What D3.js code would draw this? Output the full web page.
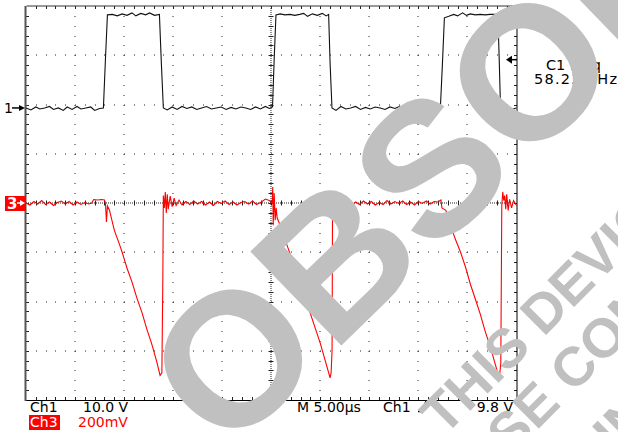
<!DOCTYPE html>
<html>
<head>
<meta charset="utf-8">
<script src="https://cdn.jsdelivr.net/npm/d3@7"></script>
<style>
body { margin: 0; background: #fff; }
text { font-family: "DejaVu Sans", sans-serif; }
</style>
</head>
<body>
<div id="scope"></div>
<script>
// Ch1 trace, time in us, volts
var ch1Time = [0, 0.5, 1.0, 1.4, 1.9, 2.4, 2.8, 3.3, 3.8, 4.2, 4.7, 5.2, 5.6, 6.1, 6.6, 7.0, 7.5, 7.89,
	8.1, 8.3, 8.8, 9.3, 9.8, 10.3, 10.8, 11.2, 11.7, 12.2, 12.6, 13.1, 13.6,
	13.8, 14.0, 14.4, 14.9, 15.4, 15.9, 16.4, 16.9, 17.4, 17.9, 18.4, 18.9, 19.4, 19.9, 20.4, 20.9,
	21.4, 21.9, 22.4, 22.9, 23.4, 23.9, 24.4, 24.8, 25.13,
	25.3, 25.48, 25.9, 26.4, 26.9, 27.4, 27.9, 28.3, 28.7, 29.2, 29.7, 30.2, 30.6, 30.85,
	31.0, 31.19, 31.6, 32.1, 32.6, 33.1, 33.6, 34.1, 34.6, 35.1, 35.6, 36.1, 36.6, 37.1, 37.6, 38.1,
	38.6, 39.1, 39.6, 40.1, 40.6, 41.1, 41.6, 42.0, 42.24,
	42.45, 42.65, 43.1, 43.6, 44.0, 44.5, 44.9, 45.3, 45.8, 46.3, 46.8, 47.3, 47.8, 48.1,
	48.25, 48.37, 48.8, 49.3, 50];
var ch1Volts = [0, -0.4, 0.2, -0.2, 0, 0.3, -0.3, 0, -0.5, 0.2, -0.3, 0.3, -0.2, 0, 0.2, -0.5, -0.1, 0,
	10, 18.9, 19.0, 18.7, 19.1, 18.8, 19.3, 18.7, 19.2, 18.9, 19.3, 18.8, 19.0,
	9, 0, -0.4, 0.2, -0.3, 0.3, -0.1, 0.2, -0.3, 0, 0.3, -0.2, 0, 0.2, -0.3, 0.1,
	-0.2, 0.2, 0, -0.3, 0.2, -0.2, 0.3, -0.1, 0.2,
	10, 18.9, 19.1, 18.9, 19.0, 18.8, 19.0, 19.2, 18.6, 19.1, 18.8, 19.2, 18.7, 19.0,
	9, 0, -0.5, 0.3, -0.2, 0, 0.3, -0.3, 0.1, -0.2, 0.2, 0, -0.3, 0.2, -0.1, 0.3,
	-0.2, 0, 0.2, -0.3, 0.1, -0.2, 0.2, -0.1, 0,
	9, 18.3, 18.6, 19.0, 18.7, 19.3, 18.8, 19.1, 18.9, 19.0, 18.9, 19.0, 19.0, 19.0,
	9, 0, 0.2, -0.3, 0];

// Ch3 trace, time in us, millivolts
var ch3Time = [0, 0.4, 0.8, 1.2, 1.6, 2.0, 2.4, 2.8, 3.2, 3.6, 4.0, 4.4, 4.8, 5.2, 5.6, 6.0, 6.4, 6.7,
	6.9, 7.3, 7.7, 8.0, 8.1, 8.2, 8.3, 8.5,
	9.0, 9.5, 9.8, 10.3, 10.8, 11.3, 11.84, 12.3, 12.8, 13.3, 13.67, 13.85,
	13.95, 14.0, 14.1, 14.2, 14.3, 14.4, 14.5, 14.7, 14.9, 15.1, 15.3, 15.6, 15.9, 16.3,
	16.7, 17.1, 17.5, 17.9, 18.3, 18.7, 19.1, 19.5, 19.9, 20.3, 20.7, 21.1, 21.5, 21.9,
	22.3, 22.7, 23.1, 23.5, 24.0, 24.4, 24.8, 25.1,
	25.15, 25.2, 25.3, 25.4, 25.5, 25.6,
	26.0, 26.5, 27.0, 27.5, 28.0, 28.5, 29.0, 29.5, 30.0, 30.5, 31.0, 31.1,
	31.2, 31.25, 31.35, 31.45, 31.55, 31.7, 31.9, 32.1, 32.4, 32.8,
	33.2, 33.6, 34.0, 34.4, 34.8, 35.2, 35.6, 36.0, 36.4, 36.8, 37.2, 37.6, 38.0, 38.4,
	38.8, 39.2, 39.6, 40.0, 40.4, 40.8, 41.2, 41.6, 42.0, 42.3, 42.4, 42.6,
	42.8, 43.3, 43.8, 44.3, 44.8, 45.3, 45.8, 46.3, 46.8, 47.3, 47.8, 48.25,
	48.4, 48.5, 48.6, 48.7, 48.8, 48.9, 49.0, 49.15, 49.3, 49.5, 49.7, 50];
var ch3MilliVolts = [0, -8, 6, -4, 10, -6, 4, -10, 2, 8, -4, 6, -8, 4, -6, 2, -4, 0,
	14, 12, 14, 12, 0, -77, -12, -28,
	-110, -165, -200, -265, -320, -385, -447, -510, -570, -640, -700, -690,
	-300, 30, -20, 45, -40, 35, -25, 28, -15, 20, -10, 12, -8, 6,
	-6, 8, -4, 6, -8, 4, -10, 6, -2, 8, -6, 4, -8, 2,
	6, -4, 8, -6, 4, 16, 10, 0,
	65, -90, 40, -70, -20, -60,
	-100, -160, -215, -270, -330, -390, -450, -510, -570, -640, -710, -690,
	-600, 30, -40, 35, -30, 25, -15, 12, -8, 6,
	-10, 4, -6, 8, -4, 6, -8, 2, -6, 10, -4, 6, -2, 8,
	-6, 4, -8, 6, -2, 8, -4, 6, 4, 12, -20, -25,
	-30, -95, -150, -200, -260, -330, -390, -450, -520, -580, -650, -711,
	-650, -10, 45, 10, 30, -25, 35, -30, 15, -20, 10, -10];

// scope settings / readouts
var ch1VoltsPerDiv = 10, ch3MvPerDiv = 200;
var ch1Position = 1.93, ch3Position = 0; // divisions above centre
var triggerLevel = 9.8;
var readoutLeft = ["Ch1", "10.0 V"];
var readoutCh3 = ["Ch3", "200mV"];
var readoutRight = ["M 5.00\u00b5s", "Ch1", "9.8 V"];
var measurement = ["C1 Freq", "58.23 kHz"];
var watermark = ["OBSOLETE"];
var notice = ["THIS DEVICE", "PLEASE CONTACT", "LINEAR TECHNOLOGY"];

var width = 618, height = 432;
var svg = d3.select("#scope").append("svg")
	.attr("width", width)
	.attr("height", height);

var x = d3.scaleLinear().domain([0, 50]).range([26, 516.5]);
var y = d3.scaleLinear().domain([-4, 4]).range([400, 6]);

var grid = svg.append("g").attr("fill", "#222");

// dotted graticule
d3.range(1, 10).forEach(function(i){
	if(i == 5) return;
	d3.range(1, 40).forEach(function(k){
		grid.append("rect").attr("x", Math.round(x(i * 5)) - 0.5).attr("y", Math.round(y(-4 + k / 5)))
			.attr("width", 1).attr("height", 1);
	});
});
d3.range(-3, 4).forEach(function(j){
	if(j == 0) return;
	d3.range(1, 50).forEach(function(k){
		grid.append("rect").attr("x", Math.round(x(k))).attr("y", Math.round(y(j)) - 0.5)
			.attr("width", 1).attr("height", 1);
	});
});

// centre lines: fine dots + ticks
var cx = Math.round(x(25)), cy = Math.round(y(0));
for(var py = 6; py < 400; py += 2){
	grid.append("rect").attr("x", cx - 0.5).attr("y", py).attr("width", 1).attr("height", 1);
}
for(var px = 26; px < 516; px += 2){
	grid.append("rect").attr("x", px).attr("y", cy - 0.5).attr("width", 1).attr("height", 1);
}
d3.range(1, 40).forEach(function(k){
	var ty = Math.round(y(-4 + k / 5));
	grid.append("line").attr("x1", cx - 2.5).attr("x2", cx + 2.5).attr("y1", ty + 0.5).attr("y2", ty + 0.5)
		.attr("stroke", "#222");
});
d3.range(1, 50).forEach(function(k){
	var tx = Math.round(x(k));
	grid.append("line").attr("x1", tx + 0.5).attr("x2", tx + 0.5).attr("y1", cy - 2.5).attr("y2", cy + 2.5)
		.attr("stroke", "#222");
});

// border ticks
d3.range(1, 50).forEach(function(k){
	var tx = Math.round(x(k)) + 0.5;
	grid.append("line").attr("x1", tx).attr("x2", tx).attr("y1", 6).attr("y2", 9).attr("stroke", "#222");
	grid.append("line").attr("x1", tx).attr("x2", tx).attr("y1", 397).attr("y2", 400).attr("stroke", "#222");
});
d3.range(1, 40).forEach(function(k){
	var ty = Math.round(y(-4 + k / 5)) + 0.5;
	grid.append("line").attr("x1", 26).attr("x2", 29).attr("y1", ty).attr("y2", ty).attr("stroke", "#222");
	grid.append("line").attr("x1", 514).attr("x2", 517).attr("y1", ty).attr("y2", ty).attr("stroke", "#222");
});

// frame
svg.append("line").attr("x1", 26.5).attr("x2", 517).attr("y1", 6).attr("y2", 6).attr("stroke", "#333");
svg.append("line").attr("x1", 517).attr("x2", 517).attr("y1", 6).attr("y2", 400.5).attr("stroke", "#000");
svg.append("line").attr("x1", 25).attr("x2", 517.5).attr("y1", 400.5).attr("y2", 400.5).attr("stroke", "#000");
svg.append("line").attr("x1", 25.5).attr("x2", 25.5).attr("y1", 6).attr("y2", 401).attr("stroke", "#555").attr("stroke-width", 2);

// traces
var ch1 = ch1Time.map(function(t, i){ return [t, ch1Volts[i]]; });
var ch3 = ch3Time.map(function(t, i){ return [t, ch3MilliVolts[i]]; });

var line1 = d3.line()
	.x(function(d){ return x(d[0]); })
	.y(function(d){ return y(d[1] / ch1VoltsPerDiv + ch1Position); });
var line3 = d3.line()
	.x(function(d){ return x(d[0]); })
	.y(function(d){ return y(d[1] / ch3MvPerDiv + ch3Position); });

svg.append("path").datum(ch3).attr("d", line3)
	.attr("fill", "none").attr("stroke", "#ff0000").attr("stroke-width", 1.1);
svg.append("path").datum(ch1).attr("d", line1)
	.attr("fill", "none").attr("stroke", "#111").attr("stroke-width", 1.1);

// channel ground markers
var g1 = y(ch1Position);
svg.append("text").attr("x", 4).attr("y", g1 + 5).attr("font-size", 14).text("1");
svg.append("line").attr("x1", 12).attr("x2", 22).attr("y1", g1).attr("y2", g1).attr("stroke", "#000").attr("stroke-width", 1.5);
svg.append("path").attr("d", "M19," + (g1 - 3) + "L25," + g1 + "L19," + (g1 + 3) + "Z").attr("fill", "#000");

var g3 = y(ch3Position);
svg.append("rect").attr("x", 5).attr("y", g3 - 7).attr("width", 21).attr("height", 15).attr("fill", "#ff0000");
svg.append("text").attr("x", 7).attr("y", g3 + 6).attr("font-size", 15).attr("font-weight", "bold")
	.attr("fill", "#fff").text("3");
svg.append("line").attr("x1", 17).attr("x2", 23).attr("y1", g3).attr("y2", g3).attr("stroke", "#fff").attr("stroke-width", 1.5);
svg.append("path").attr("d", "M20," + (g3 - 3) + "L25," + g3 + "L20," + (g3 + 3) + "Z").attr("fill", "#fff");

// trigger level marker
var tl = y(triggerLevel / ch1VoltsPerDiv + ch1Position);
svg.append("path").attr("d", "M506," + tl + "L512," + (tl - 4) + "L512," + (tl + 4) + "Z").attr("fill", "#000");
svg.append("line").attr("x1", 511).attr("x2", 517).attr("y1", tl).attr("y2", tl).attr("stroke", "#000").attr("stroke-width", 1.5);

// readouts
svg.append("text").attr("x", 30).attr("y", 412).attr("font-size", 14).text(readoutLeft[0]);
svg.append("text").attr("x", 83).attr("y", 412).attr("font-size", 14).text(readoutLeft[1]);
svg.append("rect").attr("x", 29).attr("y", 415).attr("width", 31).attr("height", 15).attr("fill", "#ff0000");
svg.append("text").attr("x", 30).attr("y", 427).attr("font-size", 14).attr("fill", "#fff").text(readoutCh3[0]);
svg.append("text").attr("x", 78).attr("y", 427).attr("font-size", 14).attr("fill", "#ff0000").text(readoutCh3[1]);
svg.append("text").attr("x", 297).attr("y", 412).attr("font-size", 14).text(readoutRight[0]);
svg.append("text").attr("x", 383).attr("y", 412).attr("font-size", 14).text(readoutRight[1]);
svg.append("path").attr("d", "M418,411.5h3l5,-10h4").attr("fill", "none").attr("stroke", "#000").attr("stroke-width", 1.5);
svg.append("text").attr("x", 513).attr("y", 412).attr("font-size", 14).attr("text-anchor", "end").text(readoutRight[2]);

svg.append("text").attr("x", 546).attr("y", 70).attr("font-size", 14.5).text(measurement[0]);
svg.append("text").attr("x", 534).attr("y", 84).attr("font-size", 14.5)
	.attr("textLength", 83).attr("lengthAdjust", "spacing").text(measurement[1]);

// watermark
svg.append("text")
	.attr("transform", "translate(226,457) rotate(-44.1)")
	.attr("font-weight", "bold").attr("font-size", 190)
	.attr("fill", "#c0c0c0")
	.style("font-family", "'Liberation Sans', Arial, sans-serif")
	.text(watermark[0]);

var noteX = [5, -109, 80], noteY = [623, 684, 758];
var note = svg.append("g")
	.attr("transform", "rotate(-45)")
	.attr("fill", "#c0c0c0");
notice.forEach(function(s, i){
	note.append("text")
		.attr("x", noteX[i]).attr("y", noteY[i])
		.style("font-family", "'Liberation Sans', Arial, sans-serif")
		.attr("font-weight", "bold").attr("font-size", 55)
		.text(s);
});
</script>
</body>
</html>
